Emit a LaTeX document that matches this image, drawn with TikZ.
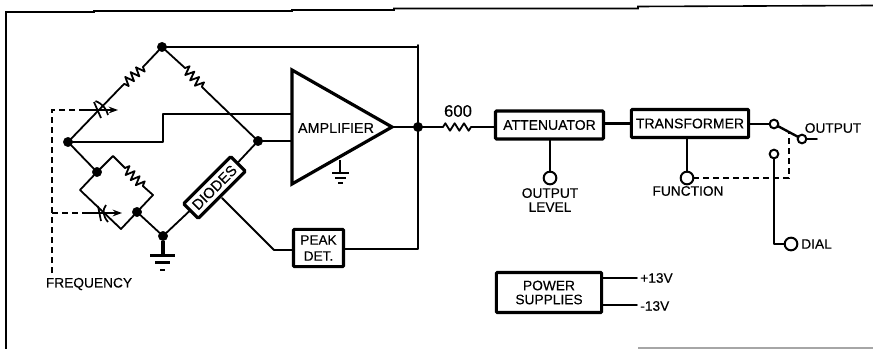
\documentclass[tikz,border=0pt]{standalone}
\usepackage{fontspec}
\setmainfont{Liberation Sans}[FakeBold=0.3]
\usetikzlibrary{decorations.pathmorphing,arrows.meta}
\tikzset{
  wire/.style={line width=1.35pt,black,line cap=round,line join=round},
  frameline/.style={line width=1.2pt,black},
  ctrl/.style={line width=1.1pt,dash pattern=on 4.5pt off 3pt},
  blockbox/.style={draw,line width=2.3pt,rounded corners=.8pt,inner sep=0pt,align=center,outer sep=0pt,
     font=\fontsize{10.5}{12}\selectfont},
  lbl/.style={inner sep=0pt,align=center,font=\fontsize{10.3}{10.5}\selectfont},
  dotnode/.style={circle,fill=black,draw=black,inner sep=0pt,minimum size=7pt,outer sep=0pt},
  ring/.style={circle,draw=black,fill=white,line width=1.5pt,inner sep=0pt,outer sep=0pt},
  ringS/.style={ring,minimum size=6.5pt},
  ringL/.style={ring,minimum size=9.5pt},
  zig/.style={decorate,decoration={zigzag,segment length=5.4pt,amplitude=3.4pt}},
}
\begin{document}
\begin{tikzpicture}[x=.75pt,y=-.75pt]
\useasboundingbox (0,0) rectangle (873,349);
% frame
\coordinate (f0) at (6,349); \coordinate (f1) at (6,12); \coordinate (f2) at (94,12);
\coordinate (f3) at (94,11); \coordinate (f4) at (292,11); \coordinate (f5) at (292,10);
\coordinate (f6) at (394,10); \coordinate (f7) at (394,8.5); \coordinate (f8) at (638,8.5);
\coordinate (f9) at (638,6.5); \coordinate (f10) at (873,5.5);
\draw[frameline] (f0) -- (f1) -- (f2) -- (f3) -- (f4) -- (f5) -- (f6) -- (f7) -- (f8) -- (f9) -- (f10);
\coordinate (g0) at (638,348); \coordinate (g1) at (873,348);
\draw[line width=.9pt,black!35] (g0) -- (g1);
% bridge nodes
\node[dotnode] (T) at (162,47) {};
\node[dotnode] (L) at (68,142) {};
\node[dotnode] (R) at (258,141) {};
\node[dotnode] (B) at (163,236) {};
\node[dotnode] (I1) at (97,172) {};
\node[dotnode] (I2) at (137,212) {};
\node[dotnode] (J) at (418,127) {};
% amplifier
\coordinate (a1) at (292,70); \coordinate (a2) at (392,127); \coordinate (a3) at (292,184);
\draw[line width=2.4pt,line join=miter,fill=white] (a1) -- (a2) -- (a3) -- cycle;
\node[lbl,font=\fontsize{10.8}{11}\selectfont] (amp) at (336,128) {AMPLIFIER};
\coordinate (ain1) at (291,114); \coordinate (ain2) at (291,141);
% boxes
\node[blockbox,rotate=45,minimum width=50pt,minimum height=15.5pt,font=\fontsize{11}{12}\selectfont] (diodes) at (214.5,187.5) {DIODES};
\node[blockbox,minimum width=37.5pt,minimum height=28pt,font=\fontsize{10.2}{12}\selectfont] (peak) at (318.5,248) {PEAK\\DET.};
\node[blockbox,minimum width=81pt,minimum height=21pt] (att) at (549.5,125) {ATTENUATOR};
\node[blockbox,minimum width=88pt,minimum height=21pt] (trans) at (690,123.5) {TRANSFORMER};
\node[blockbox,minimum width=79pt,minimum height=30pt,font=\fontsize{10.3}{10.5}\selectfont] (power) at (549,292.5) {POWER\\SUPPLIES};
% bridge arms
\coordinate (r1a) at (143,67); \coordinate (r1b) at (122,86);
\coordinate (r2a) at (185,68); \coordinate (r2b) at (203,88);
\draw[wire] (T) -- (r1a);
\draw[wire,zig] (r1a) -- (r1b);
\draw[wire] (r1b) -- (L);
\draw[wire] (T) -- (r2a);
\draw[wire,zig] (r2a) -- (r2b);
\draw[wire] (r2b) -- (R);
\draw[wire] (L) -- (I1);
% inner parallel network
\coordinate (c1) at (113,156); \coordinate (c2) at (153,195); \coordinate (c3) at (80,190); \coordinate (c4) at (121,229);
\coordinate (r3a) at (125,168); \coordinate (r3b) at (144,187);
\draw[wire] (I1) -- (c1) -- (r3a);
\draw[wire,zig] (r3a) -- (r3b);
\draw[wire] (r3b) -- (c2) -- (I2);
\draw[wire] (I1) -- (c3) -- (c4) -- (I2);
\draw[wire] (I2) -- (B);
% diodes path
\draw[wire] (R) -- (diodes);
\draw[wire] (diodes) -- (B);
% amp inputs
\coordinate (k1) at (163,142); \coordinate (k2) at (163,114);
\draw[wire] (L) -- (k1) -- (k2) -- (ain1);
\draw[wire] (R) -- (ain2);
% feedback
\coordinate (ftop) at (418,45); \coordinate (fbot) at (418,249);
\draw[wire] (T) -- (T -| ftop) -- (ftop) -- (J);
\draw[wire] (J) -- (fbot) -- (peak.east |- fbot);
\draw[wire] (a2) -- (J);
\coordinate (d1) at (222,198); \coordinate (d2) at (274,250);
\draw[wire] (d1) -- (d2) -- (peak.west |- d2);
% grounds
\coordinate (g2a) at (163,255);
\draw[line width=2.6pt] (B) -- (g2a);
\draw[line width=1.7pt] (150,255.5) -- (175,255.5) (155,262.5) -- (170,262.5);
\draw[line width=1.7pt] (160,270) -- (165,270);
\coordinate (g3a) at (340,160); \coordinate (g3b) at (340,173);
\draw[line width=1.2pt] (g3a) -- (g3b);
\draw[line width=1.4pt] (332,173) -- (349,173) (335,178) -- (346,178) (338,183) -- (343,183);
% capacitors
\draw[line width=1.3pt] (94,102) -- (101,118) (95.5,101) .. controls (103,104) and (107,110) .. (108,115);
\draw[line width=1.3pt] (98,206) -- (101,221) (106,205) .. controls (102,210) and (103,216) .. (108,222);
% frequency control
\coordinate (fq0) at (52,273); \coordinate (fq1) at (52,110); \coordinate (fq2) at (84,110);
\coordinate (fq3) at (118,110); \coordinate (fq4) at (52,213); \coordinate (fq5) at (86,213); \coordinate (fq6) at (122,213);
\draw[ctrl] (fq0) -- (fq1) -- (fq2);
\draw[ctrl] (fq4) -- (fq5);
\draw[line width=1.6pt,-{Stealth[length=7pt,width=5pt]}] (fq2) -- (fq3);
\draw[line width=1.6pt,-{Stealth[length=7pt,width=5pt]}] (fq5) -- (fq6);
\node[lbl] (freq) at (89,284) {FREQUENCY};
% output chain
\coordinate (ro0) at (443,127); \coordinate (ro1) at (472,127);
\draw[wire] (J) -- (ro0);
\draw[wire,zig,decoration={zigzag,segment length=7pt,amplitude=2.8pt}] (ro0) -- (ro1);
\draw[wire] (ro1) -- (att.west |- ro1);
\node[lbl,font=\fontsize{12.5}{13}\selectfont] (r600) at (458,111) {600};
\draw[wire,line width=1.7pt] (att.east |- trans) -- (trans.west);
% attenuator knob
\node[ringL] (lev) at (550,178) {};
\draw[wire,line width=1.8pt] (att.south -| lev) -- (lev);
\node[lbl] (levt) at (550,200) {OUTPUT\\LEVEL};
% switch
\node[ringS] (sw1) at (774,124) {};
\node[ringS] (sw2) at (802,139) {};
\node[ringS] (sw3) at (774,154) {};
\coordinate (swout) at (817,139);
\draw[wire,line width=1.8pt] (trans.east |- sw1) -- (sw1);
\draw[wire,line width=1.8pt] (sw1) -- (sw2);
\draw[wire] (sw2) -- (swout);
\node[lbl] (outt) at (833,128) {OUTPUT};
% function
\node[ringL] (fun) at (687,178) {};
\draw[wire,line width=1.8pt] (trans.south -| fun) -- (fun);
\node[lbl] (funt) at (688,191) {FUNCTION};
\coordinate (dk1) at (789,178); \coordinate (dk2) at (789,131);
\draw[ctrl] (fun) -- (dk1) -- (dk2);
% dial
\node[ringL] (dial) at (791,244) {};
\coordinate (dk3) at (774,244);
\draw[wire,line width=1.8pt] (sw3) -- (dk3) -- (dial);
\node[lbl,anchor=west] (dialt) at (801,244) {DIAL};
% power
\coordinate (p1) at (637,278); \coordinate (p2) at (637,305);
\draw[wire] (power.east |- p1) -- (p1);
\draw[wire] (power.east |- p2) -- (p2);
\node[lbl,anchor=west] (pv) at (640,278) {+13V};
\node[lbl,anchor=west] (mv) at (640,306) {-13V};
\end{tikzpicture}
\end{document}
